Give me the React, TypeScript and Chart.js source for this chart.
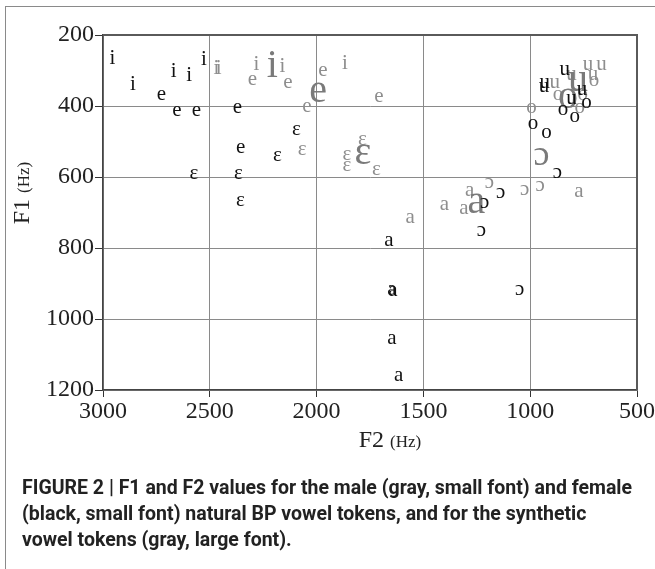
import React, { useEffect, useRef } from "react";
import { Chart, registerables } from "chart.js";

Chart.register(...registerables);

// F2 (x, Hz) and F1 (y, Hz) per token
// Female natural tokens (black, small font)
const femaleI = [
  { x: 2956, y: 261 }, { x: 2860, y: 336 }, { x: 2669, y: 299 }, { x: 2597, y: 311 }, { x: 2527, y: 266 },
];
const femaleE = [
  { x: 2727, y: 371 }, { x: 2654, y: 416 }, { x: 2563, y: 414 }, { x: 2371, y: 408 }, { x: 2355, y: 519 },
];
const femaleEps = [
  { x: 2094, y: 468 }, { x: 2183, y: 543 }, { x: 2574, y: 594 }, { x: 2366, y: 594 }, { x: 2357, y: 670 },
];
const femaleA = [
  { x: 1662, y: 782 }, { x: 1647, y: 918 }, { x: 1643, y: 923 }, { x: 1647, y: 1057 }, { x: 1616, y: 1161 },
];
const femaleOpenO = [
  { x: 1213, y: 673 }, { x: 1138, y: 646 }, { x: 1228, y: 752 }, { x: 1049, y: 918 }, { x: 873, y: 589 },
];
const femaleO = [
  { x: 987, y: 451 }, { x: 924, y: 477 }, { x: 846, y: 411 }, { x: 792, y: 432 }, { x: 737, y: 392 },
];
const femaleU = [
  { x: 838, y: 299 }, { x: 932, y: 336 }, { x: 935, y: 347 }, { x: 807, y: 381 }, { x: 757, y: 355 },
];

// Male natural tokens (gray, small font)
const maleI = [
  { x: 2469, y: 289 }, { x: 2458, y: 291 }, { x: 2282, y: 280 }, { x: 2160, y: 286 }, { x: 1867, y: 275 },
];
const maleE = [
  { x: 2300, y: 327 }, { x: 2134, y: 336 }, { x: 2045, y: 404 }, { x: 1970, y: 303 }, { x: 1708, y: 377 },
];
const maleEps = [
  { x: 2068, y: 526 }, { x: 1858, y: 538 }, { x: 1858, y: 571 }, { x: 1786, y: 496 }, { x: 1720, y: 580 },
];
const maleA = [
  { x: 1562, y: 716 }, { x: 1402, y: 679 }, { x: 1310, y: 691 }, { x: 1283, y: 641 }, { x: 772, y: 642 },
];
const maleOpenO = [
  { x: 1191, y: 618 }, { x: 1026, y: 637 }, { x: 953, y: 627 },
];
const maleO = [
  { x: 994, y: 406 }, { x: 870, y: 369 }, { x: 768, y: 406 }, { x: 701, y: 332 }, { x: 754, y: 369 },
];
const maleU = [
  { x: 885, y: 336 }, { x: 807, y: 313 }, { x: 729, y: 285 }, { x: 666, y: 285 }, { x: 706, y: 313 },
];

// Synthetic tokens (gray, large font)
const synthI = [{ x: 2207, y: 280 }];
const synthE = [{ x: 1993, y: 364 }];
const synthEps = [{ x: 1783, y: 538 }];
const synthA = [{ x: 1252, y: 676 }];
const synthOpenO = [{ x: 947, y: 543 }];
const synthO = [{ x: 823, y: 381 }];
const synthU = [{ x: 776, y: 332 }];

const xTicks = [3000, 2500, 2000, 1500, 1000, 500];
const yTicks = [200, 400, 600, 800, 1000, 1200];

const BLACK = "#111111";
const GRAY = "#8e8e8e";
const GRAY_LARGE = "#7a7a7a";
const SMALL = 21;
const LARGE = 40;

const groups = [
  { glyph: "i", data: maleI, color: GRAY, size: SMALL },
  { glyph: "e", data: maleE, color: GRAY, size: SMALL },
  { glyph: "ɛ", data: maleEps, color: GRAY, size: SMALL },
  { glyph: "a", data: maleA, color: GRAY, size: SMALL },
  { glyph: "ɔ", data: maleOpenO, color: GRAY, size: SMALL },
  { glyph: "o", data: maleO, color: GRAY, size: SMALL },
  { glyph: "u", data: maleU, color: GRAY, size: SMALL },
  { glyph: "i", data: synthI, color: GRAY_LARGE, size: LARGE },
  { glyph: "e", data: synthE, color: GRAY_LARGE, size: LARGE },
  { glyph: "ɛ", data: synthEps, color: GRAY_LARGE, size: LARGE },
  { glyph: "a", data: synthA, color: GRAY_LARGE, size: LARGE },
  { glyph: "ɔ", data: synthOpenO, color: GRAY_LARGE, size: 36 },
  { glyph: "o", data: synthO, color: GRAY_LARGE, size: LARGE },
  { glyph: "u", data: synthU, color: GRAY_LARGE, size: LARGE },
  { glyph: "i", data: femaleI, color: BLACK, size: SMALL },
  { glyph: "e", data: femaleE, color: BLACK, size: SMALL },
  { glyph: "ɛ", data: femaleEps, color: BLACK, size: SMALL },
  { glyph: "a", data: femaleA, color: BLACK, size: SMALL },
  { glyph: "ɔ", data: femaleOpenO, color: BLACK, size: SMALL },
  { glyph: "o", data: femaleO, color: BLACK, size: SMALL },
  { glyph: "u", data: femaleU, color: BLACK, size: SMALL },
];

const SERIF = "'Liberation Serif', 'DejaVu Serif', serif";

const glyphPlugin = {
  id: "vowelGlyphs",
  afterDatasetsDraw(chart: any) {
    const ctx = chart.ctx;
    ctx.save();
    chart.data.datasets.forEach((ds: any, i: number) => {
      const meta = chart.getDatasetMeta(i);
      ctx.font = `${ds.glyphSize}px ${SERIF}`;
      ctx.fillStyle = ds.glyphColor;
      ctx.textAlign = "center";
      ctx.textBaseline = "alphabetic";
      const k = ds.glyph === "i" ? 0.33 : 0.22;
      meta.data.forEach((el: any) => {
        ctx.fillText(ds.glyph, el.x, el.y + k * ds.glyphSize);
      });
    });
    ctx.restore();
  },
};

const framePlugin = {
  id: "frameAndTitles",
  afterDraw(chart: any) {
    const ctx = chart.ctx;
    const a = chart.chartArea;
    ctx.save();
    // top and right borders of plot
    ctx.strokeStyle = "#5a5a5a";
    ctx.lineWidth = 2;
    ctx.beginPath();
    ctx.moveTo(a.left, a.top);
    ctx.lineTo(a.right, a.top);
    ctx.lineTo(a.right, a.bottom);
    ctx.stroke();
    // x axis title
    ctx.fillStyle = "#222";
    ctx.textBaseline = "alphabetic";
    const big = `24px ${SERIF}`;
    const small = `17px ${SERIF}`;
    ctx.font = big;
    const w1 = ctx.measureText("F2 ").width;
    ctx.font = small;
    const w2 = ctx.measureText("(Hz)").width;
    const cx = 390;
    let sx = cx - (w1 + w2) / 2;
    ctx.textAlign = "left";
    ctx.font = big;
    ctx.fillText("F2 ", sx, 447);
    ctx.font = small;
    ctx.fillText("(Hz)", sx + w1, 447);
    // y axis title
    ctx.translate(29, 193);
    ctx.rotate(-Math.PI / 2);
    ctx.font = big;
    const v1 = ctx.measureText("F1 ").width;
    ctx.font = small;
    const v2 = ctx.measureText("(Hz)").width;
    sx = -(v1 + v2) / 2;
    ctx.font = big;
    ctx.fillText("F1 ", sx, 0);
    ctx.font = small;
    ctx.fillText("(Hz)", sx + v1, 0);
    ctx.restore();
  },
};

export default function App() {
  const ref = useRef<HTMLCanvasElement | null>(null);

  useEffect(() => {
    if (!ref.current) return;
    const chart = new Chart(ref.current, {
      type: "scatter",
      data: {
        datasets: groups.map((g) => ({
          label: g.glyph,
          data: g.data,
          pointRadius: 0,
          pointHoverRadius: 0,
          showLine: false,
          glyph: g.glyph,
          glyphColor: g.color,
          glyphSize: g.size,
        })) as any,
      },
      options: {
        responsive: false,
        animation: false,
        events: [],
        layout: { padding: { left: 0, top: 35, right: 18, bottom: 0 } },
        plugins: { legend: { display: false }, tooltip: { enabled: false }, title: { display: false } },
        scales: {
          x: {
            type: "linear",
            min: 500,
            max: 3000,
            reverse: true,
            afterFit: (s: any) => {
              s.height = 179;
            },
            afterBuildTicks: (s: any) => {
              s.ticks = xTicks.map((v) => ({ value: v }));
            },
            ticks: {
              callback: (v: any) => String(v),
              color: "#222",
              font: { family: SERIF, size: 24 },
              padding: 0,
              maxRotation: 0,
            },
            grid: { color: "#8a8a8a", lineWidth: 1, tickLength: 7, tickColor: "#333" },
            border: { color: "#444", width: 1.5 },
          },
          y: {
            type: "linear",
            min: 200,
            max: 1200,
            reverse: true,
            afterFit: (s: any) => {
              s.width = 103;
            },
            afterBuildTicks: (s: any) => {
              s.ticks = yTicks.map((v) => ({ value: v }));
            },
            ticks: {
              callback: (v: any) => String(v),
              color: "#222",
              font: { family: SERIF, size: 24 },
              padding: 1,
            },
            grid: { color: "#8a8a8a", lineWidth: 1, tickLength: 8, tickColor: "#333" },
            border: { color: "#444", width: 1.5 },
          },
        },
      },
      plugins: [glyphPlugin, framePlugin],
    });
    return () => chart.destroy();
  }, []);

  return (
    <div
      style={{
        position: "fixed",
        left: 0,
        top: 0,
        width: 655,
        height: 569,
        overflow: "hidden",
        background: "#fff",
      }}
    >
      <div
        style={{
          position: "absolute",
          left: 5,
          top: 6,
          width: 700,
          height: 700,
          borderLeft: "1.5px solid #8a8a8a",
          borderTop: "1.5px solid #8a8a8a",
        }}
      />
      <canvas ref={ref} width={655} height={569} style={{ position: "absolute", left: 0, top: 0 }} />
      <div
        style={{
          position: "absolute",
          left: 22,
          top: 475,
          width: 630,
          fontFamily: "Roboto, 'Liberation Sans', sans-serif",
          fontWeight: 700,
          fontSize: 19.5,
          lineHeight: "26px",
          color: "#222",
          whiteSpace: "nowrap",
        }}
      >
        <div>FIGURE 2 | F1 and F2 values for the male (gray, small font) and female</div>
        <div>(black, small font) natural BP vowel tokens, and for the synthetic</div>
        <div>vowel tokens (gray, large font).</div>
      </div>
    </div>
  );
}
